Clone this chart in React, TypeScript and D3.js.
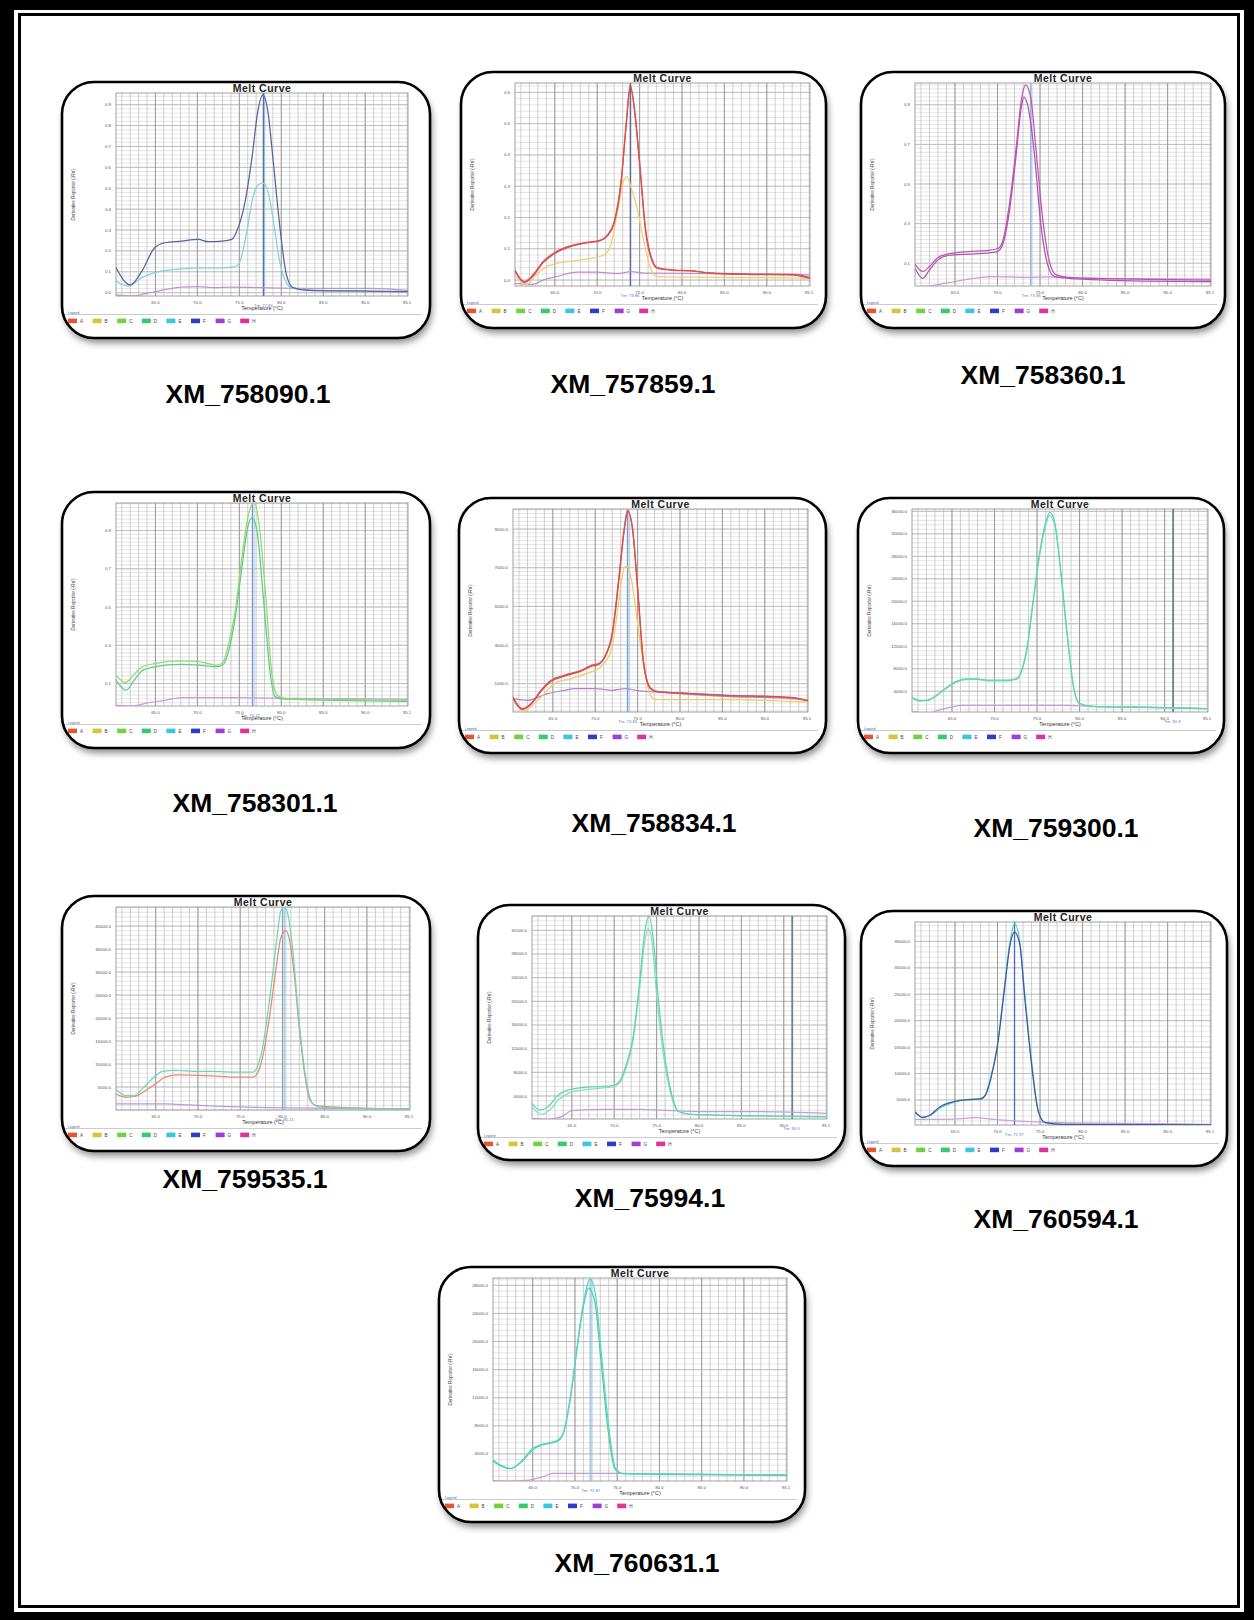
import React from "react";
import * as d3 from "d3";

type Pt = [number, number];

// ---------- shared axis values ----------
const TEMP_DOMAIN: [number, number] = [60.3, 95.1];
const TEMP_TICKS = [65, 70, 75, 80, 85, 90];
const TEMP_END_LABEL = "95.1";
const LEGEND_KEYS = ["A", "B", "C", "D", "E", "F", "G", "H"];
const LEGEND_COLORS = ["#e4572e", "#d6c43c", "#6cd43f", "#36cc6c", "#3ac6dc", "#2b3dcc", "#9b3fd6", "#e0329b"];

const GENE_NAMES = [
  "XM_758090.1", "XM_757859.1", "XM_758360.1",
  "XM_758301.1", "XM_758834.1", "XM_759300.1",
  "XM_759535.1", "XM_75994.1", "XM_760594.1",
  "XM_760631.1",
];
const TM_VALUES = [77.86, 73.86, 73.96, 76.32, 73.83, 90.9, 80.21, 90.9, 71.97, 71.87];

// ---------- derivative melt curves: [temperature °C, -Rn'] ----------
const P1_F: Pt[] = [[60.3,0.119],[62.0,0.037],[63.4,0.104],[64.9,0.215],[66.1,0.239],[68.1,0.247],[70.1,0.255],[71.3,0.244],[72.9,0.247],[74.1,0.255],[74.7,0.295],[75.7,0.438],[76.5,0.645],[77.2,0.868],[77.8,0.947],[78.4,0.868],[79.0,0.645],[79.8,0.326],[80.6,0.088],[81.4,0.024],[83.2,0.011],[88.8,0.008],[95.1,0.005]];
const P1_E: Pt[] = [[60.3,0.056],[61.8,0.032],[63.4,0.072],[64.9,0.096],[67.3,0.111],[70.1,0.119],[72.9,0.119],[74.5,0.123],[75.1,0.151],[75.9,0.295],[76.6,0.454],[77.3,0.518],[77.8,0.525],[78.4,0.486],[79.0,0.358],[79.8,0.151],[80.6,0.048],[81.4,0.021],[84.8,0.011],[95.1,0.005]];
const P1_G: Pt[] = [[60.3,-0.011],[62.2,-0.016],[63.8,-0.005],[65.7,0.011],[68.1,0.027],[70.1,0.029],[72.1,0.024],[74.1,0.027],[77.6,0.024],[82.8,0.021],[90.7,0.021],[95.1,0.011]];

const P2_A: Pt[] = [[60.3,0.032],[61.4,-0.005],[62.4,0.016],[63.6,0.059],[64.8,0.085],[66.4,0.106],[68.4,0.119],[70.4,0.128],[71.2,0.144],[72.0,0.187],[72.8,0.315],[73.4,0.496],[73.9,0.625],[74.4,0.540],[75.0,0.368],[75.7,0.155],[76.5,0.059],[77.1,0.037],[79.1,0.031],[81.1,0.029],[83.5,0.021],[87.1,0.018],[93.1,0.016],[95.1,0.005]];
const P2_H: Pt[] = [[60.3,0.028],[61.4,-0.008],[62.4,0.012],[63.6,0.055],[64.8,0.082],[66.4,0.103],[68.4,0.117],[70.4,0.126],[71.2,0.141],[72.0,0.182],[72.8,0.305],[73.4,0.488],[73.9,0.618],[74.4,0.548],[75.0,0.380],[75.7,0.165],[76.5,0.064],[77.1,0.040],[79.1,0.032],[81.1,0.030],[83.5,0.023],[87.1,0.020],[93.1,0.018],[95.1,0.008]];
const P2_B: Pt[] = [[60.3,0.016],[61.6,-0.016],[62.8,0.016],[64.0,0.043],[65.2,0.053],[67.2,0.061],[69.2,0.069],[70.8,0.080],[71.6,0.112],[72.4,0.219],[73.1,0.315],[73.5,0.331],[73.9,0.304],[74.7,0.229],[75.5,0.123],[76.3,0.037],[77.1,0.011],[81.1,0.009],[93.1,0.007],[95.1,0.005]];
const P2_G: Pt[] = [[60.3,-0.011],[62.4,-0.014],[63.6,0.0],[65.2,0.011],[67.6,0.025],[70.0,0.025],[72.4,0.021],[74.0,0.027],[75.6,0.022],[81.1,0.021],[93.1,0.018],[95.1,0.016]];

const P3_H: Pt[] = [[60.3,0.095],[61.2,0.058],[62.0,0.083],[63.0,0.129],[64.2,0.147],[66.6,0.159],[68.6,0.164],[70.0,0.173],[70.6,0.210],[71.4,0.397],[72.2,0.685],[72.8,0.922],[73.3,1.0],[73.9,0.939],[74.5,0.685],[75.3,0.329],[76.1,0.108],[76.9,0.041],[78.3,0.029],[81.5,0.024],[87.5,0.019],[95.1,0.015]];
const P3_G: Pt[] = [[60.3,0.075],[61.2,0.024],[62.0,0.066],[63.0,0.117],[64.2,0.139],[66.6,0.146],[68.6,0.151],[70.0,0.159],[70.6,0.193],[71.4,0.363],[72.2,0.651],[72.8,0.888],[73.1,0.939],[73.6,0.888],[74.3,0.668],[75.1,0.295],[75.9,0.092],[76.7,0.032],[78.3,0.024],[87.5,0.010],[95.1,0.007]];
const P3_NTC: Pt[] = [[60.3,-0.019],[62.2,-0.014],[63.8,-0.002],[66.6,0.020],[69.4,0.032],[73.4,0.029],[75.9,0.031],[81.5,0.024],[95.1,0.020]];

const P4_C: Pt[] = [[60.3,0.144],[61.4,0.105],[62.4,0.144],[63.4,0.188],[65.0,0.205],[68.1,0.218],[70.1,0.214],[72.5,0.196],[73.1,0.214],[73.7,0.302],[74.5,0.477],[75.3,0.758],[76.1,0.986],[76.8,1.047],[77.4,0.916],[78.1,0.582],[78.8,0.179],[79.5,0.039],[80.5,0.021],[84.8,0.018],[95.1,0.012]];
const P4_D: Pt[] = [[60.3,0.118],[61.5,0.065],[62.6,0.126],[63.5,0.170],[65.0,0.188],[68.1,0.200],[70.1,0.196],[72.5,0.188],[73.1,0.200],[73.7,0.267],[74.5,0.442],[75.3,0.705],[76.0,0.916],[76.5,0.968],[77.1,0.898],[77.9,0.530],[78.7,0.144],[79.3,0.030],[80.5,0.018],[95.1,0.007]];
const P4_G: Pt[] = [[60.3,-0.014],[62.2,-0.018],[64.2,0.0],[66.1,0.012],[68.1,0.026],[72.9,0.026],[76.9,0.025],[84.8,0.021],[95.1,0.018]];

const P5_A: Pt[] = [[60.3,312],[61.4,-294],[62.4,-35],[63.6,658],[64.8,1177],[66.4,1437],[68.4,1697],[69.6,1957],[70.4,2043],[71.2,2476],[72.0,3602],[72.8,6545],[73.4,8970],[73.8,9974],[74.4,8970],[75.0,5853],[75.7,2043],[76.5,745],[77.3,571],[81.1,485],[85.1,398],[93.1,277],[95.1,104]];
const P5_H: Pt[] = [[60.3,250],[61.4,-330],[62.4,-80],[63.6,600],[64.8,1120],[66.4,1390],[68.4,1660],[69.6,1900],[70.4,2000],[71.2,2420],[72.0,3500],[72.8,6400],[73.4,8850],[73.85,9900],[74.4,9050],[75.0,6000],[75.7,2150],[76.5,790],[77.3,600],[81.1,500],[85.1,410],[93.1,290],[95.1,120]];
const P5_B: Pt[] = [[60.3,139],[61.6,-416],[62.8,-35],[64.0,485],[65.2,1004],[67.2,1264],[69.2,1558],[70.4,1784],[71.2,2130],[72.0,2909],[72.8,5333],[73.4,6978],[73.7,7100],[74.2,6545],[75.0,4121],[75.8,1697],[76.6,312],[77.2,173],[85.1,173],[95.1,52]];
const P5_G: Pt[] = [[60.3,225],[62.0,139],[64.4,485],[66.4,658],[67.6,745],[70.0,745],[72.0,658],[73.6,745],[74.8,658],[77.2,571],[81.1,450],[85.1,346],[93.1,225],[95.1,139]];

const P6_D: Pt[] = [[60.3,2974],[61.2,2379],[62.0,2379],[63.0,3093],[64.2,4461],[65.4,5650],[66.6,6186],[67.8,6186],[69.4,5948],[71.4,5948],[72.6,6245],[73.2,7732],[73.9,12491],[74.5,19628],[75.3,28550],[76.1,34498],[76.5,35807],[77.1,33903],[77.7,26766],[78.5,14870],[79.3,4758],[79.9,1903],[81.5,1309],[85.5,1190],[89.5,1071],[95.1,892]];
const P6_E: Pt[] = [[60.3,2800],[61.2,2250],[62.0,2300],[63.0,3000],[64.2,4350],[65.4,5500],[66.6,6050],[67.8,6100],[69.4,5850],[71.4,5850],[72.6,6150],[73.2,7600],[73.9,12200],[74.5,19300],[75.3,28100],[76.1,34000],[76.45,35300],[77.1,33500],[77.7,26300],[78.5,14500],[79.3,4600],[79.9,1850],[81.5,1280],[85.5,1160],[89.5,1050],[95.1,870]];
const P6_G: Pt[] = [[60.3,416],[62.2,119],[63.4,595],[64.6,1071],[66.2,1487],[70.2,1487],[74.2,1487],[78.3,1487],[81.5,1309],[89.5,1130],[95.1,892]];

const P7_E: Pt[] = [[60.3,4592],[61.4,3134],[62.4,3134],[63.4,4592],[64.6,6778],[65.8,8382],[67.4,8600],[69.8,8382],[72.2,8382],[74.5,8236],[76.5,8236],[77.1,9694],[77.7,14067],[78.5,24271],[79.3,36662],[79.8,43222],[80.2,44169],[80.6,42858],[81.2,35204],[81.8,22813],[82.4,11880],[83.0,4592],[83.6,1312],[84.8,583],[88.8,364],[95.1,219]];
const P7_A: Pt[] = [[60.3,3499],[61.4,2770],[62.6,2988],[63.8,4227],[65.0,5685],[66.1,7143],[67.7,7653],[69.8,7507],[72.2,7362],[74.5,7143],[76.5,7143],[77.1,8236],[77.7,11880],[78.5,20627],[79.3,31560],[79.8,37391],[80.4,38994],[80.8,37391],[81.4,29373],[82.0,17711],[82.6,8236],[83.2,2405],[84.0,948],[88.8,437],[95.1,219]];
const P7_G: Pt[] = [[60.3,1312],[62.9,1312],[66.1,1312],[69.0,1093],[72.9,802],[76.9,583],[80.9,437],[95.1,219]];

const P8_D: Pt[] = [[60.3,2761],[61.2,1634],[62.2,2197],[63.4,4169],[64.6,5014],[66.2,5408],[68.2,5577],[69.8,5746],[70.6,6423],[71.4,9239],[72.2,13746],[73.0,23324],[73.6,31775],[74.1,34310],[74.6,30648],[75.2,20507],[76.0,10366],[76.8,4169],[77.6,1352],[79.0,901],[85.0,676],[95.1,507]];
const P8_E: Pt[] = [[60.3,2197],[61.4,901],[62.4,1634],[63.4,3324],[64.6,4451],[66.2,5014],[68.2,5296],[69.8,5521],[70.6,6141],[71.4,8676],[72.2,13183],[73.0,22197],[73.6,30085],[74.0,32225],[74.4,30648],[75.0,21070],[75.8,10930],[76.6,4732],[77.4,1634],[79.0,901],[95.1,451]];
const P8_G: Pt[] = [[60.3,225],[62.2,113],[63.8,507],[65.0,1521],[69.0,1746],[73.0,1746],[77.0,1521],[81.0,1352],[87.0,1352],[95.1,1070]];

const P9_E: Pt[] = [[60.3,2595],[61.2,1772],[62.2,2152],[63.2,3418],[64.4,4304],[65.6,4810],[66.8,5127],[68.0,5127],[68.6,6076],[69.2,9241],[70.0,15570],[70.8,26329],[71.5,35190],[72.0,38354],[72.6,35190],[73.2,25063],[74.0,12405],[74.8,2911],[75.6,696],[77.6,380],[85.5,253],[95.1,253]];
const P9_F: Pt[] = [[60.3,2785],[61.2,1646],[62.2,2278],[63.2,3671],[64.4,4493],[65.6,4937],[66.8,5063],[68.0,5190],[68.6,5949],[69.2,8924],[70.0,15253],[70.8,25696],[71.5,34557],[72.0,36772],[72.6,34557],[73.2,24430],[74.0,11772],[74.8,2785],[75.6,696],[77.6,380],[95.1,253]];
const P9_G: Pt[] = [[60.3,1329],[63.6,1329],[66.0,1456],[67.2,1646],[69.6,1329],[73.6,886],[77.6,696],[85.5,570],[95.1,380]];

const P10_E: Pt[] = [[60.3,3135],[61.2,2423],[62.4,1948],[63.8,3135],[65.0,4798],[65.8,5273],[67.0,5606],[68.0,5986],[68.6,6936],[69.4,11686],[70.2,18812],[71.0,25463],[71.8,28883],[72.4,26888],[73.2,17387],[74.0,7886],[74.8,1948],[75.6,1235],[79.4,1140],[85.4,1093],[95.1,998]];
const P10_D: Pt[] = [[60.3,3000],[61.2,2300],[62.4,1900],[63.8,3000],[65.0,4600],[65.8,5150],[67.0,5500],[68.0,5850],[68.6,6800],[69.4,11400],[70.2,18500],[71.0,25000],[71.6,27600],[72.3,26000],[73.1,17000],[73.9,7600],[74.7,1900],[75.6,1200],[79.4,1100],[95.1,950]];
const P10_G: Pt[] = [[60.3,190],[62.2,143],[64.6,285],[66.2,760],[67.4,1235],[70.2,1235],[75.4,1235],[81.4,1140],[95.1,998]];

// ---------- y axes ----------
const Y_DOMAINS: [number, number][] = [
  [-0.016, 0.956], [-0.019, 0.63], [-0.015, 1.01],
  [-0.0175, 1.044], [-467, 10039], [297, 36416],
  [0, 44150], [113, 34422], [253, 38671],
  [143, 29045],
];
const Y_TICKS: number[][] = [
  [0, 0.1, 0.2, 0.3, 0.4, 0.5, 0.6, 0.7, 0.8, 0.9],
  [0, 0.1, 0.2, 0.3, 0.4, 0.5, 0.6],
  [0.1, 0.3, 0.5, 0.7, 0.9],
  [0.1, 0.3, 0.5, 0.7, 0.9],
  [1000, 3000, 5000, 7000, 9000],
  [4000, 8000, 12000, 16000, 20000, 24000, 28000, 32000, 36000],
  [5000, 10000, 15000, 20000, 25000, 30000, 35000, 40000],
  [4000, 8000, 12000, 16000, 20000, 24000, 28000, 32000],
  [5000, 10000, 15000, 20000, 25000, 30000, 35000],
  [4000, 8000, 12000, 16000, 20000, 24000, 28000],
];
const Y_MINOR_STEP = [0.02, 0.02, 0.02, 0.02, 200, 800, 1000, 800, 1000, 800];

const SERIES: Pt[][][] = [
  [P1_G, P1_E, P1_F],
  [P2_G, P2_B, P2_H, P2_A],
  [P3_NTC, P3_G, P3_H],
  [P4_G, P4_D, P4_C],
  [P5_G, P5_B, P5_H, P5_A],
  [P6_G, P6_E, P6_D],
  [P7_G, P7_A, P7_E],
  [P8_G, P8_E, P8_D],
  [P9_G, P9_E, P9_F],
  [P10_G, P10_D, P10_E],
];

// ---------- styling ----------
const SERIES_COLORS: string[][] = [
  ["#c490cc", "#7fd3da", "#55639f"],
  ["#b790d2", "#ecd070", "#d2487f", "#d9553d"],
  ["#c99ad8", "#a456b8", "#c552a8"],
  ["#c59cda", "#5ccb8c", "#94d86e"],
  ["#ab86d2", "#eccf6a", "#c9467c", "#d8553c"],
  ["#c49cda", "#7cd8c6", "#5dd5ad"],
  ["#b89ada", "#e88c6c", "#6ed6bf"],
  ["#c49cda", "#8adcc8", "#60d5ad"],
  ["#c4a2da", "#58d2c2", "#3e56a2"],
  ["#c49cda", "#4ccf98", "#5ad4c8"],
];
// Tm marker lines: [temperature, colour, width]
const TM_LINES: [number, string, number][][] = [
  [[77.86, "#56689e", 1.2], [78.02, "#86c8dc", 1]],
  [[73.9, "#3c4f96", 1.1]],
  [[73.9, "#90b6e2", 1.2], [74.05, "#b8cdea", 1]],
  [[76.55, "#6f8fd0", 1.1], [76.75, "#9cc4e6", 1]],
  [[73.8, "#6d9bd2", 1.1], [74.0, "#a8c8e6", 1]],
  [[91.0, "#6f7f98", 1.8]],
  [[80.2, "#8ab8dc", 1.1], [80.4, "#a9d6e8", 1]],
  [[91.0, "#6f7f98", 1.8]],
  [[72.0, "#4b6bc0", 1.3]],
  [[71.8, "#8ab8e0", 1.1], [72.0, "#a9d0ec", 1]],
];

// panel frames: x, y, width, height, right padding of the plot
const PANEL_BOX: [number, number, number, number, number][] = [
  [62, 82, 368, 256, 22],
  [461, 72, 365, 256, 16],
  [861, 72, 364, 256, 14],
  [62, 492, 368, 256, 22],
  [459, 498, 367, 255, 18],
  [858, 498, 366, 255, 16],
  [62, 896, 368, 255, 20],
  [478, 905, 367, 255, 18],
  [861, 911, 366, 255, 16],
  [439, 1267, 366, 255, 18],
];
const CAPTION_POS: [number, number][] = [
  [248, 403], [633, 393], [1043, 384],
  [255, 812], [654, 832], [1056, 837],
  [245, 1188], [650, 1207], [1056, 1228],
  [637, 1572],
];

const FONT = "'Liberation Sans', Arial, sans-serif";

function MeltPanel({ idx }: { idx: number }) {
  const [x, y, w, h, padR] = PANEL_BOX[idx];
  const L = x + 54;
  const R = x + w - padR;
  const T = y + 11;
  const B = y + 214;
  const yDom = Y_DOMAINS[idx];
  const xs = d3.scaleLinear().domain(TEMP_DOMAIN).range([L, R]);
  const ys = d3.scaleLinear().domain(yDom).range([B, T]);
  const line = d3
    .line<Pt>()
    .x((d) => xs(d[0]))
    .y((d) => ys(d[1]))
    .curve(d3.curveMonotoneX);

  const vMinor = d3.range(61, 95.5, 1);
  const vMajor = [65, 70, 75, 80, 85, 90];
  const step = Y_MINOR_STEP[idx];
  const hMinor = d3.range(Math.ceil(yDom[0] / step), Math.floor(yDom[1] / step) + 1).map((k) => k * step);
  const ticks = Y_TICKS[idx];
  const fmt = d3.format(".1f");
  const tm = TM_VALUES[idx];
  const ly = B + 25;

  return (
    <g>
      <defs>
        <clipPath id={`box${idx}`}>
          <rect x={x} y={y} width={w} height={h} rx={32} ry={32} />
        </clipPath>
        <clipPath id={`plot${idx}`}>
          <rect x={L} y={T} width={R - L} height={B - T} />
        </clipPath>
      </defs>
      <rect x={x} y={y} width={w} height={h} rx={32} ry={32} fill="#fff" filter="url(#panelShadow)" />
      <g clipPath={`url(#box${idx})`}>
        {/* grid */}
        <rect x={L} y={T} width={R - L} height={B - T} fill="#fff" />
        {hMinor.map((v, i) => (
          <line key={`h${i}`} x1={L} x2={R} y1={ys(v)} y2={ys(v)} stroke="#d4d4d4" strokeWidth={0.6} />
        ))}
        {ticks.map((v, i) => (
          <line key={`hm${i}`} x1={L} x2={R} y1={ys(v)} y2={ys(v)} stroke="#aeaeae" strokeWidth={0.7} />
        ))}
        {vMinor.map((v, i) => (
          <line key={`v${i}`} x1={xs(v)} x2={xs(v)} y1={T} y2={B} stroke="#b6b6b6" strokeWidth={0.65} />
        ))}
        {vMajor.map((v, i) => (
          <line key={`vm${i}`} x1={xs(v)} x2={xs(v)} y1={T} y2={B} stroke="#8a8a8a" strokeWidth={0.75} />
        ))}
        <rect x={L} y={T} width={R - L} height={B - T} fill="none" stroke="#8a8a8a" strokeWidth={0.8} />

        {/* Tm markers */}
        {TM_LINES[idx].map(([t, c, sw], i) => (
          <line key={`tm${i}`} x1={xs(t)} x2={xs(t)} y1={T} y2={B} stroke={c} strokeWidth={sw} />
        ))}

        {/* curves */}
        <g clipPath={`url(#plot${idx})`}>
          {SERIES[idx].map((s, i) => (
            <path key={`s${i}`} d={line(s) || ""} fill="none" stroke={SERIES_COLORS[idx][i]} strokeWidth={1.25} />
          ))}
        </g>

        {/* title */}
        <text x={(L + R) / 2} y={y + 10} textAnchor="middle" fontFamily={FONT} fontWeight="bold" fontSize={10.5} fill="#222" letterSpacing={0.5}>
          Melt Curve
        </text>

        {/* y axis */}
        {ticks.map((v, i) => (
          <text key={`yl${i}`} x={L - 5} y={ys(v) + 1.5} textAnchor="end" fontFamily={FONT} fontSize={4.4} fill="#555">
            {fmt(v)}
          </text>
        ))}
        <text
          transform={`translate(${x + 13},${(T + B) / 2}) rotate(-90)`}
          textAnchor="middle"
          fontFamily={FONT}
          fontSize={4.6}
          fill="#444"
        >
          Derivative Reporter (-Rn')
        </text>

        {/* x axis */}
        {TEMP_TICKS.map((t, i) => (
          <text key={`xl${i}`} x={xs(t)} y={B + 7.5} textAnchor="middle" fontFamily={FONT} fontSize={4.4} fill="#555">
            {fmt(t)}
          </text>
        ))}
        <text x={R - 1} y={B + 7.5} textAnchor="middle" fontFamily={FONT} fontSize={4.4} fill="#555">
          {TEMP_END_LABEL}
        </text>
        <text x={xs(tm)} y={B + 10.5} textAnchor="middle" fontFamily={FONT} fontSize={4.2} fill="#5b80c6">
          {`Tm: ${tm}`}
        </text>
        <text x={(L + R) / 2} y={B + 14} textAnchor="middle" fontFamily={FONT} fontSize={5.4} fill="#333">
          Temperature (°C)
        </text>

        {/* legend */}
        <line x1={x} x2={x + w - 8} y1={B + 18.5} y2={B + 18.5} stroke="#c6c6c6" strokeWidth={0.9} />
        <text x={x + 6} y={B + 17.6} fontFamily={FONT} fontSize={3.4} fill="#4a68c4">
          Legend
        </text>
        {LEGEND_KEYS.map((k, i) => {
          const sx = x + 6 + i * 24.6;
          return (
            <g key={`lg${i}`}>
              <rect x={sx} y={ly - 2.4} width={9} height={4.6} fill={LEGEND_COLORS[i]} />
              <text x={sx + 12} y={ly + 1.6} fontFamily={FONT} fontSize={4.6} fill="#444">
                {k}
              </text>
            </g>
          );
        })}
      </g>
      <rect x={x} y={y} width={w} height={h} rx={32} ry={32} fill="none" stroke="#000" strokeWidth={2.6} />
    </g>
  );
}

export default function App() {
  const W = 1254;
  const H = 1620;
  return (
    <svg
      width={W}
      height={H}
      viewBox={`0 0 ${W} ${H}`}
      style={{ position: "absolute", left: 0, top: 0, display: "block", background: "#fff" }}
    >
      <defs>
        <filter id="panelShadow" x="-10%" y="-10%" width="125%" height="130%">
          <feDropShadow dx={2} dy={5} stdDeviation={3.5} floodColor="#000" floodOpacity={0.45} />
        </filter>
      </defs>

      {/* double frame */}
      <rect x={0} y={0} width={W} height={H} fill="#000" />
      <rect x={14} y={10} width={W - 24} height={H - 18} fill="#fff" />
      <rect x={19.5} y={14.5} width={W - 35} height={H - 28} fill="none" stroke="#000" strokeWidth={3} />

      {PANEL_BOX.map((_, i) => (
        <MeltPanel key={i} idx={i} />
      ))}

      {GENE_NAMES.map((g, i) => (
        <text
          key={g}
          x={CAPTION_POS[i][0]}
          y={CAPTION_POS[i][1]}
          textAnchor="middle"
          fontFamily={FONT}
          fontWeight="bold"
          fontSize={26.5}
          fill="#000"
        >
          {g}
        </text>
      ))}
    </svg>
  );
}
